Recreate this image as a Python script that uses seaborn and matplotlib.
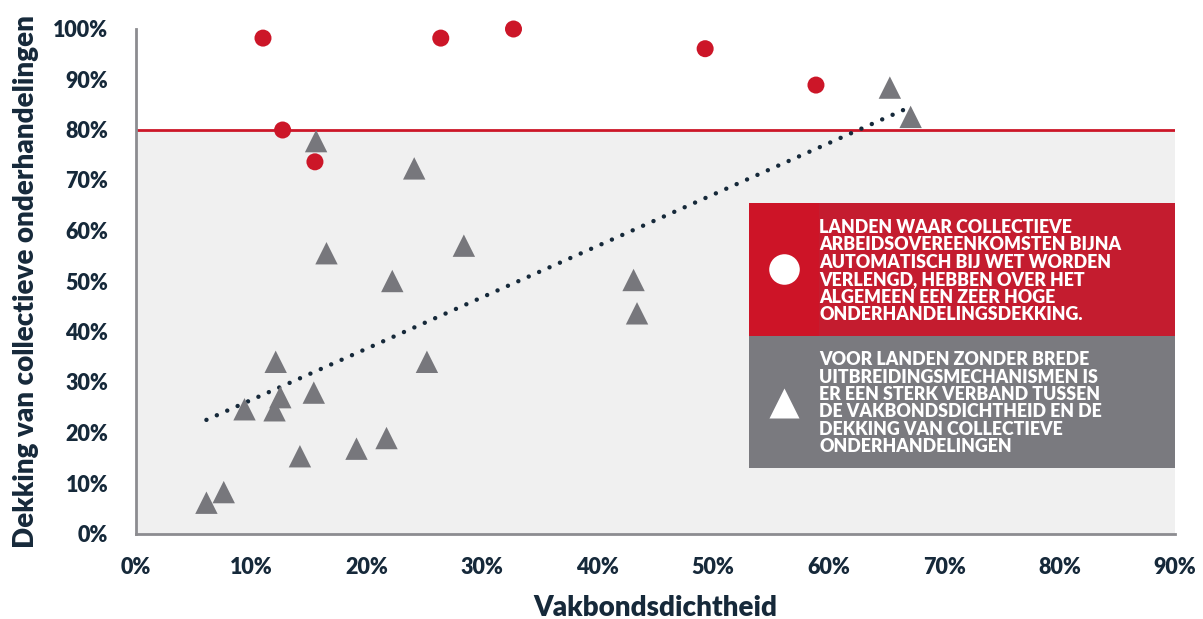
import matplotlib
matplotlib.use("Agg")
import matplotlib.pyplot as plt
import seaborn as sns
import pandas as pd
from matplotlib.patches import Rectangle
from matplotlib.ticker import FuncFormatter

# --- data (percent) ---
ext_x = [11.0, 12.7, 15.5, 26.4, 32.7, 49.3, 58.9]
ext_y = [98.1, 79.9, 73.6, 98.1, 99.9, 96.0, 88.8]

noext_x = [6.1, 7.6, 9.4, 12.0, 12.1, 12.5, 14.2, 15.4, 15.6, 16.5,
           19.1, 21.7, 22.2, 24.1, 25.2, 28.4, 43.1, 43.4, 65.3, 67.1]
noext_y = [6.1, 8.2, 24.6, 24.4, 34.0, 27.0, 15.3, 27.9, 77.7, 55.5,
           16.8, 18.9, 50.0, 72.3, 34.0, 57.0, 50.2, 43.6, 88.3, 82.5]

trend_x = [6.1, 66.8]
trend_y = [22.5, 84.2]

threshold = 80
xticks = [0, 10, 20, 30, 40, 50, 60, 70, 80, 90]
yticks = [0, 10, 20, 30, 40, 50, 60, 70, 80, 90, 100]

legend_red = ("LANDEN WAAR COLLECTIEVE\nARBEIDSOVEREENKOMSTEN BIJNA\n"
              "AUTOMATISCH BIJ WET WORDEN\nVERLENGD, HEBBEN OVER HET\n"
              "ALGEMEEN EEN ZEER HOGE\nONDERHANDELINGSDEKKING.")
legend_grey = ("VOOR LANDEN ZONDER BREDE\nUITBREIDINGSMECHANISMEN IS\n"
               "ER EEN STERK VERBAND TUSSEN\nDE VAKBONDSDICHTHEID EN DE\n"
               "DEKKING VAN COLLECTIEVE\nONDERHANDELINGEN")

# --- style ---
sns.set_theme(style="white")
plt.rcParams["font.family"] = ["Lato", "DejaVu Sans"]

RED = "#cc1628"
GREY = "#77777c"
NAVY = "#16293a"
SPINE = "#8c8c90"
W = "heavy"

df_ext = pd.DataFrame({"x": ext_x, "y": ext_y})
df_no = pd.DataFrame({"x": noext_x, "y": noext_y})
df_tr = pd.DataFrame({"x": trend_x, "y": trend_y})

fig = plt.figure(figsize=(12.03, 6.19), dpi=100)
ax = fig.add_axes([136 / 1203, 1 - 533.5 / 619, (1175 - 136) / 1203, (533.5 - 28.5) / 619])

ax.set_xlim(0, 90)
ax.set_ylim(0, 100)

# background band and threshold line
ax.axhspan(0, threshold, color="#f0f0f0", zorder=0, lw=0)
ax.axhline(threshold, color=RED, lw=2, zorder=1)

# trend line
sns.lineplot(data=df_tr, x="x", y="y", ax=ax, color=NAVY, lw=3.2,
             linestyle=(0, (0.01, 2.55)), dash_capstyle="round", zorder=2)

# points
sns.scatterplot(data=df_no, x="x", y="y", ax=ax, marker="^", s=260,
                color=GREY, edgecolor="none", zorder=3, clip_on=False)
sns.scatterplot(data=df_ext, x="x", y="y", ax=ax, marker="o", s=150,
                color=RED, edgecolor="none", zorder=4, clip_on=False)

# legend boxes
bx0, bsplit, bx1 = 53.1, 59.2, 90.0
by_top, by_mid, by_bot = 65.4, 39.2, 13.0
ax.add_patch(Rectangle((bx0, by_mid), bsplit - bx0, by_top - by_mid, color="#cd1427", lw=0, zorder=5))
ax.add_patch(Rectangle((bsplit, by_mid), bx1 - bsplit, by_top - by_mid, color="#c41c2f", lw=0, zorder=5))
ax.add_patch(Rectangle((bx0, by_bot), bx1 - bx0, by_mid - by_bot, color="#7a7a7f", lw=0, zorder=5))
ax.plot([56.1], [52.3], marker="o", ms=22, color="white", mec="none", zorder=6)
ax.plot([56.1], [25.9], marker="^", ms=22, color="white", mec="none", zorder=6)
ax.text(bsplit, (by_top + by_mid) / 2 - 0.3, legend_red, color="white", fontsize=12.8,
        fontweight=W, va="center", ha="left", linespacing=1.03, zorder=6)
ax.text(bsplit, (by_mid + by_bot) / 2 - 0.3, legend_grey, color="white", fontsize=12.8,
        fontweight=W, va="center", ha="left", linespacing=1.03, zorder=6)

# axes styling
ax.set_xticks(xticks)
ax.set_yticks(yticks)
fmt = FuncFormatter(lambda v, p: f"{v:.0f}%")
ax.xaxis.set_major_formatter(fmt)
ax.yaxis.set_major_formatter(fmt)
ax.tick_params(axis="both", length=0, labelsize=15.5, labelcolor=NAVY)
ax.tick_params(axis="y", pad=20)
ax.tick_params(axis="x", pad=17)
for lab in ax.get_xticklabels() + ax.get_yticklabels():
    lab.set_fontweight(W)

for s in ["top", "right"]:
    ax.spines[s].set_visible(False)
for s in ["left", "bottom"]:
    ax.spines[s].set_color(SPINE)
    ax.spines[s].set_linewidth(2)
    ax.spines[s].set_zorder(7)

ax.set_xlabel("Vakbondsdichtheid", fontsize=20, fontweight=W, color=NAVY, labelpad=12)
ax.set_ylabel("Dekking van collectieve onderhandelingen", fontsize=20,
              fontweight=W, color=NAVY, labelpad=10)
ax.grid(False)

fig.savefig("out.png", dpi=100)
